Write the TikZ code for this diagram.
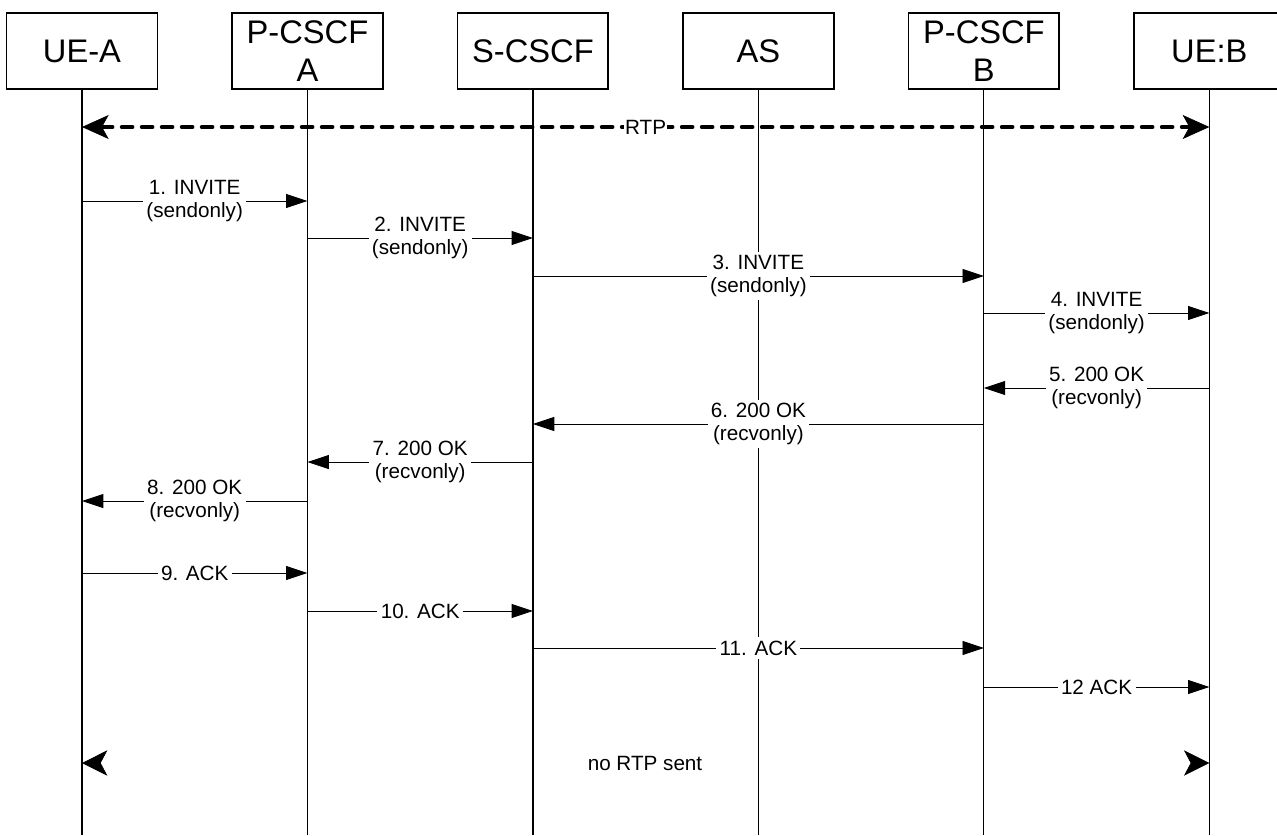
\documentclass[tikz,border=0pt]{standalone}
\usepackage{fontspec}
\setmainfont{Liberation Sans}
\usepackage{tikz}
\usetikzlibrary{arrows.meta,positioning}
\tikzstyle{entity} = [rectangle, draw, line width=1.2pt, align=center,
    minimum height=57pt, minimum width=113pt, inner sep=0pt,
    font=\fontsize{24.5}{28.5}\selectfont]
\tikzstyle{life} = [line width=0.9pt]
\tikzstyle{msg} = [line width=0.6pt, -{Triangle[length=16pt,width=10.5pt]}]
\tikzstyle{lbl} = [fill=white, align=center, inner sep=2.5pt,
    font=\fontsize{15.5}{17.3}\selectfont]
\tikzstyle{rtp} = [line width=3pt, dash pattern=on 8pt off 7pt, line cap=round,
    {Stealth[length=20pt,width=18pt,inset=5pt,line width=0.5pt]}-{Stealth[length=20pt,width=18pt,inset=5pt,line width=0.5pt]}]
\tikzstyle{endtip} = [line width=0.5pt, -{Stealth[length=19pt,width=19pt,inset=5pt,line width=0.5pt]}]

\begin{document}
\begin{tikzpicture}[x=0.75pt, y=-0.75pt, node distance=169.1pt]
\useasboundingbox (0,0) rectangle (1277,835);
% entities
\node[entity] (uea) at (82,51) {UE-A};
\node[entity, right of=uea] (pa) {P-CSCF\\A};
\node[entity, right of=pa] (scscf) {S-CSCF};
\node[entity, right of=scscf] (as) {AS};
\node[entity, right of=as] (pb) {P-CSCF\\B};
\node[entity, right of=pb] (ueb) {UE:B};
% lifelines
\foreach \e in {uea,pa,scscf,as,pb,ueb}
  \draw[life] (\e.south) -- (\e.south |- 0,835);
% media before the call
\coordinate (rtp-a) at (uea |- 0,127);
\coordinate (rtp-b) at (ueb |- 0,127);
\draw[rtp] (rtp-a) -- node[lbl, inner sep=1pt] (rtp-lbl) {RTP} (rtp-b);
% signalling
\foreach \n/\y/\a/\b/\txt in {
    1/201/uea/pa/{1. INVITE\\(sendonly)},
    2/238/pa/scscf/{2. INVITE\\(sendonly)},
    3/276/scscf/pb/{3. INVITE\\(sendonly)},
    4/313/pb/ueb/{4. INVITE\\(sendonly)},
    5/388/ueb/pb/{5. 200 OK\\(recvonly)},
    6/424/pb/scscf/{6. 200 OK\\(recvonly)},
    7/462/scscf/pa/{7. 200 OK\\(recvonly)},
    8/501/pa/uea/{8. 200 OK\\(recvonly)},
    9/573/uea/pa/{9. ACK},
    10/611/pa/scscf/{10. ACK},
    11/648/scscf/pb/{11. ACK},
    12/687/pb/ueb/{12 ACK}}{
  \coordinate (m\n-from) at (\a |- 0,\y);
  \coordinate (m\n-to) at (\b |- 0,\y);
  \draw[msg] (m\n-from) -- node[lbl] (m\n-lbl) {\txt} (m\n-to);
}
% no media afterwards
\coordinate (end-a) at (uea |- 0,763);
\coordinate (end-b) at (ueb |- 0,763);
\node[font=\fontsize{15.5}{17.3}\selectfont] (nortp) at (645,763) {no RTP sent};
\draw[endtip] ([xshift=14pt]end-a) -- (end-a);
\draw[endtip] ([xshift=-14pt]end-b) -- (end-b);
\end{tikzpicture}
\end{document}
